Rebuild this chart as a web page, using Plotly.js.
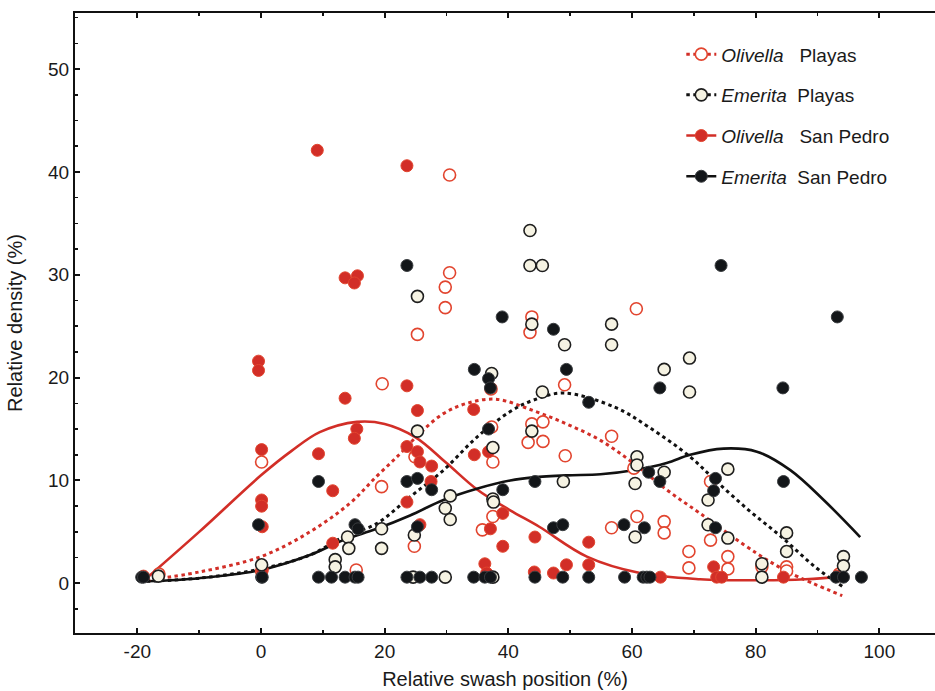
<!DOCTYPE html>
<html><head><meta charset="utf-8">
<script src="https://cdn.plot.ly/plotly-3.0.1.min.js"></script>
<style>html,body{margin:0;padding:0;background:#fff;}</style>
</head><body><div id="chart" style="width:935px;height:691px;"></div>
<script>
// Olivella Playas (open red circles)
var opX = [-16.5, 0.1, 0.1, 15.4, 19.6, 19.5, 24.8, 25.3, 24.9, 29.8, 29.8, 30.5, 30.5, 35.8, 37.3, 37.5, 37.5, 37.2, 43.8, 43.5, 43.8, 45.6, 43.2, 45.6, 49.1, 49.2, 56.7, 56.7, 60.7, 60.3, 60.8, 65.2, 65.2, 69.2, 69.2, 72.7, 72.7, 75.5, 75.5, 81, 85, 85, 93.5];
var opY = [0.9, 11.8, 1.2, 1.3, 19.4, 9.4, 3.6, 24.2, 12.3, 28.8, 26.8, 39.7, 30.2, 5.2, 15.2, 11.8, 6.5, 18.9, 25.9, 24.4, 15.5, 15.7, 13.7, 13.8, 19.3, 12.4, 14.3, 5.4, 26.7, 11.2, 6.5, 6.0, 4.9, 3.1, 1.5, 9.9, 4.2, 2.6, 1.4, 1.6, 1.6, 1.2, 0.9];
// Olivella San Pedro (filled red circles)
var osX = [-19, 0.1, -0.4, -0.4, 0.1, 0.1, 0.2, 0.2, 9.1, 9.3, 11.6, 11.6, 13.6, 15.6, 15.1, 13.6, 15.5, 15.1, 23.6, 23.6, 23.6, 23.6, 25.3, 25.3, 25.7, 27.6, 27.5, 25.7, 34.4, 34.5, 36.8, 37.1, 39.1, 39.1, 36.2, 36.5, 44.3, 44.2, 47.3, 49.4, 53.0, 53.0, 64.6, 73.2, 73.7, 74.5, 84.5, 93.2];
var osY = [0.7, 13.0, 21.6, 20.7, 8.1, 7.5, 5.5, 1.3, 42.1, 12.6, 9.0, 3.9, 29.7, 29.9, 29.2, 18.0, 15.0, 14.1, 40.6, 19.2, 13.3, 7.9, 16.8, 12.8, 11.8, 11.4, 9.9, 5.7, 16.9, 12.5, 12.8, 5.3, 6.8, 3.6, 1.9, 1.0, 4.5, 1.1, 1.0, 1.8, 4.0, 1.8, 0.6, 1.6, 0.6, 0.6, 0.6, 0.7];
// Emerita Playas (cream circles)
var epX = [-16.6, 0.1, 12, 12, 14, 14.2, 19.5, 19.5, 24.6, 24.8, 25.3, 25.3, 29.8, 29.8, 30.6, 30.6, 37.3, 37.5, 37.5, 37.6, 37.5, 43.5, 43.5, 45.5, 43.8, 43.8, 45.5, 49.1, 48.9, 56.7, 56.7, 60.5, 60.8, 60.8, 60.5, 65.2, 65.2, 69.3, 69.3, 72.3, 72.3, 75.5, 75.5, 81, 81, 85, 85, 94.2, 94.2];
var epY = [0.7, 1.8, 2.3, 1.6, 4.5, 3.4, 5.3, 3.4, 0.6, 4.7, 14.8, 27.9, 7.3, 0.6, 8.5, 6.2, 20.4, 13.2, 8.2, 7.9, 0.6, 34.3, 30.9, 30.9, 25.2, 14.8, 18.6, 23.2, 9.9, 25.2, 23.2, 4.5, 12.3, 11.5, 9.7, 10.8, 20.8, 21.9, 18.6, 8.1, 5.7, 11.1, 4.4, 1.9, 0.6, 4.9, 3.1, 2.6, 1.7];
// Emerita San Pedro (filled black circles)
var esX = [-19.3, -19, 0.1, 0.2, 9.3, 11.4, 13.6, 15.2, 15.7, 23.6, 25.7, 27.6, 34.4, 36.2, 37.1, 44.3, 48.8, 53.0, 58.8, 61.8, 62.4, 62.9, 93.0, 94.2, 97.1,
           -0.4, 9.3, 15.2, 15.7, 23.6, 25.3, 27.6, 25.3, 36.8, 39.1, 23.6, 39.0, 34.5, 36.8, 37.1, 47.3, 49.4, 53.0, 64.5, 74.4, 93.2, 84.4, 44.3, 47.3, 48.8, 58.7, 62.0, 62.7, 64.5, 73.5, 73.2, 73.5, 84.5];
var esY = [0.6, 0.6, 0.6, 0.6, 0.6, 0.6, 0.6, 0.6, 0.6, 0.6, 0.6, 0.6, 0.6, 0.6, 0.6, 0.6, 0.6, 0.6, 0.6, 0.6, 0.6, 0.6, 0.6, 0.6, 0.6,
           5.7, 9.9, 5.7, 5.3, 9.9, 10.2, 9.1, 5.5, 15.0, 9.1, 30.9, 25.9, 20.8, 19.9, 19.0, 24.7, 20.8, 17.6, 19.0, 30.9, 25.9, 19.0, 9.9, 5.4, 5.7, 5.7, 5.4, 10.8, 9.9, 10.2, 9.0, 5.4, 9.9];

// Fitted curves
var opcX = [-18.5, -10, 0, 7.9, 14.4, 18.7, 22.5, 25.7, 29.5, 33.3, 38, 44, 49.4, 54.9, 60.2, 65.6, 71, 80.2, 85.6, 94];
var opcY = [0.3, 1.1, 2.6, 5.0, 7.8, 10.4, 12.6, 14.6, 16.5, 17.5, 17.9, 16.8, 15.5, 13.9, 11.7, 9.1, 6.8, 2.9, 1.0, -1.2];
var oscX = [-18.5, -10, 0, 5, 9.5, 15.5, 20, 25, 30, 35, 40.3, 45, 52.7, 61.3, 71, 80, 88, 95];
var oscY = [0.5, 5.0, 10.5, 12.9, 14.7, 15.7, 15.5, 14.2, 11.7, 9.1, 7.1, 5.5, 2.6, 1.0, 0.4, 0.3, 0.4, 0.7];
var epcX = [-18.5, -10, 0, 7.9, 13.3, 18.7, 24.1, 29.5, 34.9, 40.3, 44, 49, 57.3, 62.7, 69.4, 73.5, 78.9, 84.2, 89.6, 94];
var epcY = [0.2, 0.5, 1.4, 2.75, 4.5, 5.8, 8.4, 11.0, 14.2, 16.7, 17.8, 18.5, 17.1, 15.2, 12.3, 10.0, 7.1, 4.5, 1.6, -0.3];
var escX = [-18.5, -10, 0, 7.9, 13.3, 18.7, 24.1, 29.5, 34.9, 40.3, 44, 49.4, 54.9, 60.2, 65.6, 69.4, 74.8, 80.2, 85.6, 91, 96.9];
var escY = [0.2, 0.5, 1.3, 2.75, 4.2, 5.3, 6.6, 8.1, 9.2, 10.0, 10.3, 10.5, 10.6, 11.0, 11.7, 12.5, 13.1, 12.8, 11.0, 8.1, 4.5];

var legendNames = ['<i>Olivella</i>\u00a0\u00a0\u00a0Playas', '<i>Emerita</i>\u00a0\u00a0Playas', '<i>Olivella</i>\u00a0\u00a0\u00a0San Pedro', '<i>Emerita</i>\u00a0\u00a0San Pedro'];

var RED = '#d22e27', REDL = '#e2452f', BLK = '#131619', CREAM = '#f6f3e3';
var FONT = 'Liberation Sans, Arial, sans-serif';
var MS = 12;
var dotDash = '3.5px,3.5px';

var mOP = {symbol:'circle', size:MS, color:'#ffffff', line:{color:REDL, width:1.6}};
var mOS = {symbol:'circle', size:MS, color:RED, line:{color:REDL, width:1}};
var mEP = {symbol:'circle', size:MS, color:CREAM, line:{color:'#1e1e1e', width:1.6}};
var mES = {symbol:'circle', size:MS, color:BLK, line:{color:'#3a3d40', width:1}};

var traces = [
  {x:oscX, y:oscY, mode:'lines', line:{color:RED, width:2.6, shape:'spline', smoothing:1}, showlegend:false, hoverinfo:'skip'},
  {x:escX, y:escY, mode:'lines', line:{color:'#111', width:2.6, shape:'spline', smoothing:1}, showlegend:false, hoverinfo:'skip'},
  {x:opcX, y:opcY, mode:'lines', line:{color:RED, width:3, dash:dotDash, shape:'spline', smoothing:1}, showlegend:false, hoverinfo:'skip'},
  {x:epcX, y:epcY, mode:'lines', line:{color:'#111', width:3, dash:dotDash, shape:'spline', smoothing:1}, showlegend:false, hoverinfo:'skip'},
  {x:opX, y:opY, mode:'markers', marker:mOP, showlegend:false},
  {x:osX, y:osY, mode:'markers', marker:mOS, showlegend:false},
  {x:epX, y:epY, mode:'markers', marker:mEP, showlegend:false},
  {x:esX, y:esY, mode:'markers', marker:mES, showlegend:false},
  // legend entries
  {x:[null], y:[null], name:legendNames[0], legendgroup:'a', mode:'lines+markers', marker:mOP, line:{color:RED, width:3, dash:dotDash}},
  {x:[null], y:[null], name:legendNames[1], legendgroup:'b', mode:'lines+markers', marker:mEP, line:{color:'#111', width:3, dash:dotDash}},
  {x:[null], y:[null], name:legendNames[2], legendgroup:'c', mode:'lines+markers', marker:mOS, line:{color:RED, width:2.6}},
  {x:[null], y:[null], name:legendNames[3], legendgroup:'d', mode:'lines+markers', marker:mES, line:{color:'#111', width:2.6}}
];

var layout = {
  width:935, height:691,
  margin:{l:75, r:0, t:13, b:58},
  paper_bgcolor:'#fff', plot_bgcolor:'#fff',
  font:{family:FONT, color:'#1a1a1a', size:19},
  showlegend:true,
  legend:{x:0.705, y:0.964, xanchor:'left', yanchor:'top', bgcolor:'rgba(0,0,0,0)', font:{family:FONT, size:19, color:'#1a1a1a'}, tracegroupgap:13, traceorder:'grouped'},
  xaxis:{
    range:[-30.08, 109.0], tickvals:[-20,0,20,40,60,80,100], ticktext:['-20','0','20','40','60','80','100'],
    showgrid:false, zeroline:false, showline:true, linecolor:'#111', linewidth:2, mirror:'ticks',
    ticks:'inside', ticklen:5, tickwidth:2, tickcolor:'#111',
    minor:{dtick:10, tick0:0, ticks:'inside', ticklen:3, tickwidth:1.5, tickcolor:'#111', showgrid:false},
    tickfont:{family:FONT, size:19, color:'#1a1a1a'},
    title:{text:'Relative swash position (%)', font:{family:FONT, size:20, color:'#1a1a1a'}, standoff:11}
  },
  yaxis:{
    range:[-4.83, 55.45], tickvals:[0,10,20,30,40,50], ticktext:['0','10','20','30','40','50'],
    showgrid:false, zeroline:false, showline:true, linecolor:'#111', linewidth:2, mirror:false,
    ticks:'inside', ticklen:5, tickwidth:2, tickcolor:'#111',
    minor:{dtick:2.5, tick0:0, ticks:'inside', ticklen:3, tickwidth:1.5, tickcolor:'#111', showgrid:false},
    tickfont:{family:FONT, size:19, color:'#1a1a1a'},
    title:{text:'Relative density (%)', font:{family:FONT, size:20, color:'#1a1a1a'}, standoff:20}
  }
};

Plotly.newPlot('chart', traces, layout, {displayModeBar:false, staticPlot:true});
</script></body></html>
